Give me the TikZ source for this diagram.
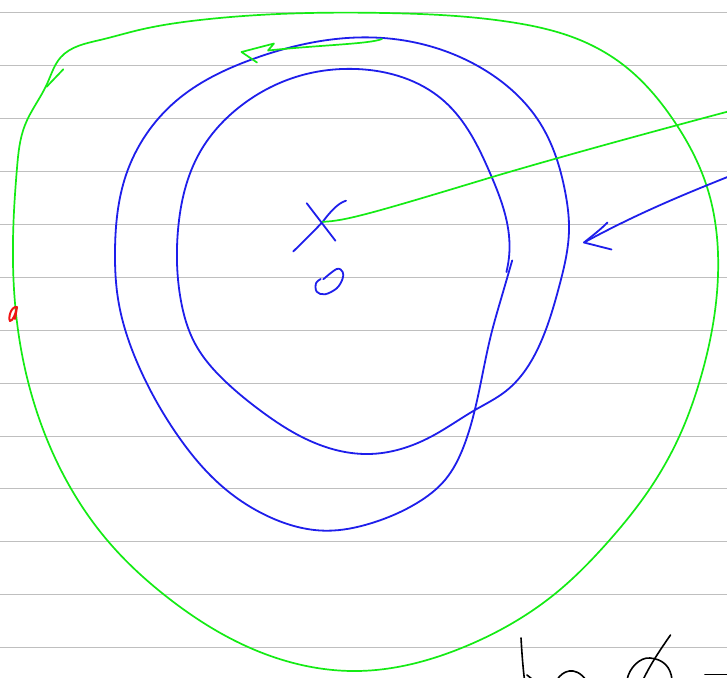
\documentclass[tikz,border=0pt]{standalone}
\usetikzlibrary{hobby}
\definecolor{penblue}{RGB}{30,30,235}
\definecolor{pengreen}{RGB}{20,235,20}
\definecolor{penred}{RGB}{240,20,20}
\begin{document}
\begin{tikzpicture}[x=1pt,y=1pt,
  ruled/.style={draw=black!25,line width=0.9pt},
  bluepen/.style={draw=penblue,line width=1.8pt,line cap=round,line join=round},
  greenpen/.style={draw=pengreen,line width=1.7pt,line cap=round,line join=round},
  redpen/.style={draw=penred,line width=2pt,line cap=round,line join=round},
  blackpen/.style={draw=black,line width=1.6pt,line cap=round,line join=round}]
\useasboundingbox (0,-677) rectangle (727,0);
\clip (0,-677) rectangle (727,0);
\fill[white] (0,-677) rectangle (727,0);
% ruled paper
\foreach \k in {0,...,12}{
  \draw[ruled] (0,{-12.8-52.9*\k}) -- (727,{-12.8-52.9*\k});
}
% outer green loop
\draw[greenpen] plot[closed hobby] coordinates {
 (47,-84) (61,-57) (100,-40) (139,-30) (200,-20) (385,-13) (510,-22)
 (580,-40) (626,-67) (672,-118) (707,-187) (718,-275) (700,-380)
 (679,-437) (649,-490) (607,-543) (556,-593) (464,-647) (357,-671)
 (255,-650) (167,-597) (107,-540) (46,-437) (18,-330) (13,-240)
 (17,-168) (25,-125)};
\draw[greenpen] (46.7,-86.7) -- (63.3,-69.3);
% blue spiral
\draw[bluepen] plot[hobby] coordinates {
 (512.2,-260.4) (500.7,-300) (491.4,-333.3) (475.2,-408.3) (463.6,-446.7)
 (445,-480) (417,-503) (370.9,-523.3) (326.8,-530.7) (268.9,-516.7)
 (222.5,-486.7) (176,-433) (139,-366.7) (118.2,-300) (115,-251)
 (126,-175) (176,-101) (253,-59) (383,-38) (483,-69) (540,-123)
 (565,-191) (569,-230) (559,-287) (540,-344) (506,-391) (475,-410)
 (431,-436.7) (368.6,-454)
 (301.3,-436.7) (259.6,-410) (227,-383) (194.7,-343) (180.8,-300)
 (178,-230) (200,-152) (242,-105) (299,-76) (356,-69) (444,-101)
 (490,-173) (509.5,-244) (506.4,-272)};
% X mark
\coordinate (X) at (322.7,-221.8);
\draw[bluepen] (306.7,-203.2) -- (335.4,-240.7);
\draw[bluepen] (293.3,-251.4) .. controls (305,-240) and (315,-230) .. (X)
  .. controls (330,-212) and (338,-203) .. (346,-200.7);
% O mark
\draw[bluepen] plot[smooth,tension=0.6] coordinates {
 (323.3,-279.3) (336.7,-269) (342.7,-272) (342.5,-279) (336.7,-288.3) (325,-294.3)
 (316.7,-291.7) (316,-283.3) (320.7,-279)};
% green line from X to the right edge
\draw[greenpen] (X) .. controls (345,-221) and (370,-214) .. (494.2,-176.4)
  .. controls (560,-157) and (640,-135) .. (730,-111);
% green arrow at top
\draw[greenpen] (382,-39) .. controls (370,-44) and (320,-45) .. (268,-50.5)
  -- (274,-43.5) -- (241.5,-52) -- (257,-62.5);
% blue arrow from the right
\coordinate (tip) at (584,-242.5);
\draw[bluepen] (730,-176) .. controls (690,-192) and (640,-212) .. (tip);
\draw[bluepen] (607.5,-222.5) .. controls (600,-230) and (592,-236) .. (tip) -- (611.5,-249.5);
% red mark
\draw[redpen] (17,-307) .. controls (11,-306) and (8,-318) .. (10,-321)
  .. controls (13,-321) and (16,-313) .. (17,-307) -- (15,-319);
% black handwriting bottom right
\draw[blackpen] (521,-638) .. controls (522,-655) and (523,-668) .. (524.5,-680);
\draw[blackpen] (527,-675) -- (532,-679);
\draw[blackpen] (557,-680) .. controls (562,-671) and (575,-665) .. (586,-680);
\draw[blackpen] (670.5,-635) .. controls (660,-650) and (650,-665) .. (643,-680);
\draw[blackpen] (627,-680) .. controls (629,-668) and (640,-657) .. (650,-658)
  .. controls (663,-659) and (671,-667) .. (672,-680);
\draw[blackpen] (705,-674.5) -- (730,-674.5);
\end{tikzpicture}
\end{document}
